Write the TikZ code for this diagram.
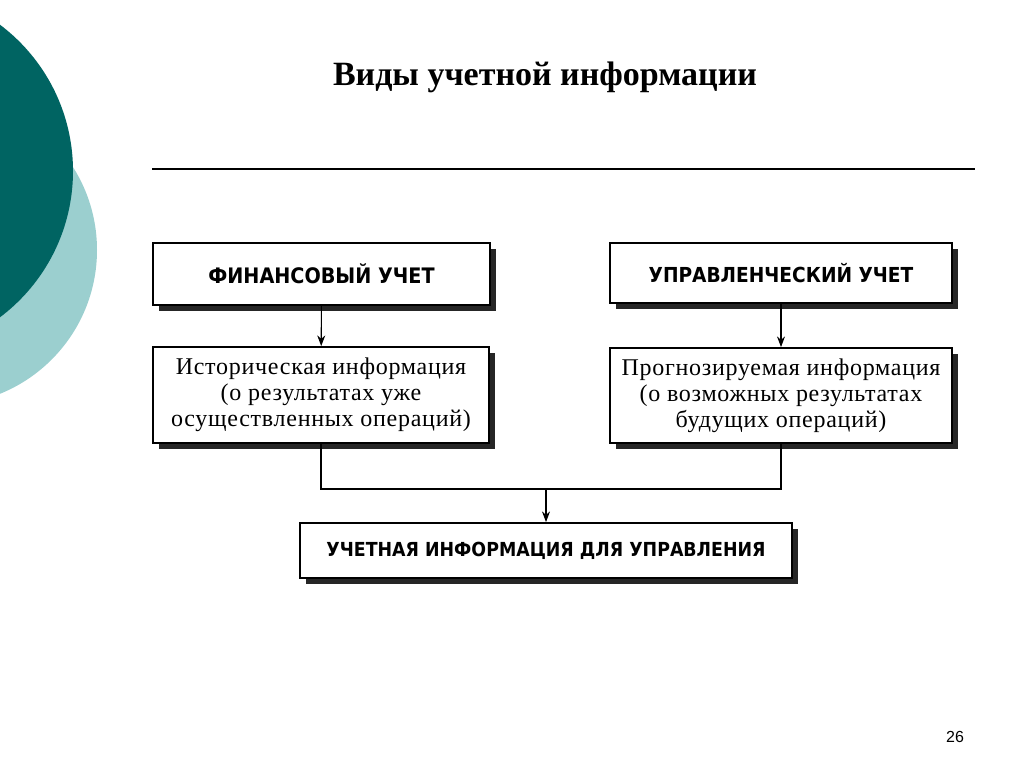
\documentclass[tikz,border=0pt]{standalone}
\usepackage{fontspec}
\setmainfont{Liberation Serif}
\newfontfamily\headfont{DejaVu Sans Condensed}
\newfontfamily\bodyfont{Liberation Serif}[LetterSpace=3]
\newfontfamily\numfont{Liberation Sans}
\usetikzlibrary{arrows.meta,shadows}
\definecolor{tealdark}{RGB}{0,100,98}
\definecolor{teallight}{RGB}{155,207,207}
\tikzset{
  box/.style={draw, line width=1.4pt, fill=white, align=center, inner sep=0pt,
    drop shadow={shadow xshift=4.5pt, shadow yshift=-4.5pt, fill=black!85, opacity=1}},
  headtext/.style={font=\headfont\bfseries\fontsize{#1}{18}\selectfont},
  headtext/.default=15.5,
  infotext/.style={font=\bodyfont\fontsize{18}{19.5}\selectfont},
  link/.style={line width=0.8pt},
  tip/.style={-{Stealth[length=8pt,width=6pt]}},
}
\begin{document}
\begin{tikzpicture}[x=0.75pt, y=-0.75pt]
    \clip (0,0) rectangle (1024,767);
    \fill[white] (0,0) rectangle (1024,767);
    \fill[teallight] (-58,250) circle[radius=116.25pt];
    \fill[tealdark] (-110,171) circle[radius=137.25pt];
    \node (title) at (545,77) {\bfseries\fontsize{25.5}{30}\selectfont Виды учетной информации};
    \draw[line width=0.8pt] (152,169) to (975,169);
    \node[box, headtext=16, minimum width=252.75pt, minimum height=46.5pt] (fin) at (321.5,274) {ФИНАНСОВЫЙ УЧЕТ};
    \node[box, infotext, minimum width=252pt, minimum height=72pt] (hist) at (321,395)
      {Историческая информация\\(о результатах уже\\осуществленных операций)};
    \node[box, headtext, minimum width=256.5pt, minimum height=45pt] (upr) at (781,273) {УПРАВЛЕНЧЕСКИЙ УЧЕТ};
    \node[box, infotext, minimum width=256.5pt, minimum height=71.25pt] (prog) at (781,395.5)
      {Прогнозируемая информация\\(о возможных результатах\\будущих операций)};
    \node[box, headtext=14.5, minimum width=369pt, minimum height=41.25pt] (uchet) at (546,550.5)
      {УЧЕТНАЯ ИНФОРМАЦИЯ ДЛЯ УПРАВЛЕНИЯ};
    \coordinate (join) at (546,489);
    \draw[link,tip] (fin) to (hist);
    \draw[link,tip] (upr) to (prog);
    \draw[link] (hist.south) |- (join) -| (prog.south);
    \draw[link,tip] (join) to (uchet);
    \node[font=\numfont\fontsize{12}{14}\selectfont] (page) at (955,737) {26};
\end{tikzpicture}
\end{document}
